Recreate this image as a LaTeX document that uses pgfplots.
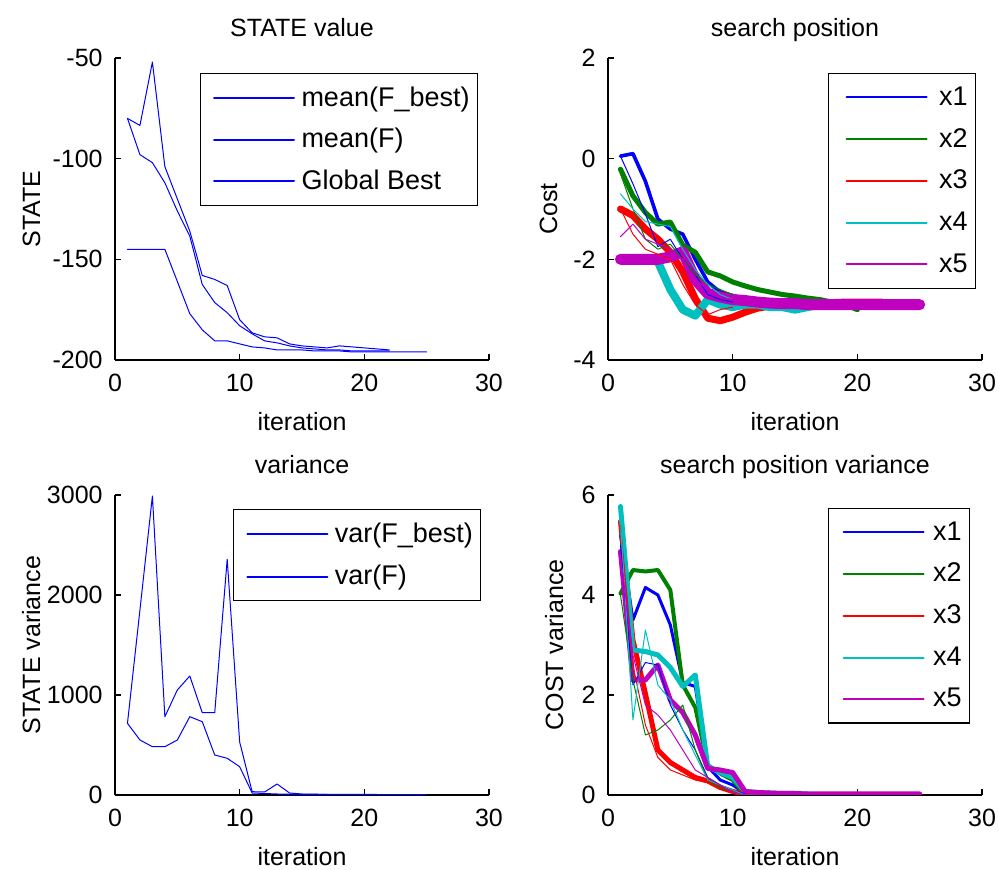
\documentclass[border=0pt]{standalone}
\usepackage{fontspec}
\setmainfont{Liberation Sans}
\usepackage{pgfplots}
\pgfplotsset{compat=1.18}

\definecolor{mblue}{rgb}{0,0,1}
\definecolor{mgreen}{rgb}{0,0.5,0}
\definecolor{mred}{rgb}{1,0,0}
\definecolor{mcyan}{rgb}{0,0.75,0.75}
\definecolor{mmag}{rgb}{0.75,0,0.75}

\newcommand{\fs}{\fontsize{12.5}{15}\selectfont}

\pgfplotsset{
  legend image code/.code={\path (0pt,0pt) (46pt,0pt);
    \draw[#1,line width=1pt](4.5pt,0pt)--(44.5pt,0pt);},
  mat/.style={
    scale only axis, width=187pt, height=151pt,
    axis x line*=bottom, axis y line*=left,
    axis line style={line width=0.6pt, black},
    tick style={line width=0.6pt, black},
    major tick length=3pt,
    xmin=0, xmax=30, xtick={0,10,20,30}, xticklabels={0,10,20,30},
    font=\fs, tick label style={font=\fs},
    xticklabel style={anchor=base, yshift=-16pt},
    yticklabel style={anchor=east, inner sep=0pt, xshift=-6pt},
    title style={at={(0.5,1)}, anchor=base, yshift=4.5pt},
    xlabel={iteration},
    xlabel style={at={(0.5,0)}, anchor=base, yshift=-35.5pt},
    legend cell align=left,
    legend style={draw=black, line width=0.6pt,
      font=\fontsize{13.5}{16}\selectfont, anchor=north west,
      inner xsep=2pt, inner ysep=4.5pt, row sep=6pt},
    every axis plot/.append style={line join=round, line cap=round},
  },
  thinl/.style={line width=0.5pt, forget plot},
}

\begin{document}
\begin{tikzpicture}
\useasboundingbox (0,0) rectangle (499.5pt,435pt);

% ---- STATE value
\begin{axis}[mat, at={(57.5pt,255pt)}, anchor=south west,
  ymin=-200, ymax=-50, ytick={-200,-150,-100,-50}, yticklabels={-200,-150,-100,-50},
  title={STATE value}, ylabel={STATE},
  ylabel style={at={(axis description cs:-0.2005,0.5)}, anchor=base},
  legend style={at={(0.227,0.95)}, row sep=5.5pt}]
\addplot[mblue, line width=0.5pt] coordinates {
  (1,-80) (2,-98) (3,-102) (4,-112) (5,-126) (6,-138.5) (7,-162.5) (8,-171.5)
  (9,-176.5) (10,-183) (11,-187) (12,-190.5) (13,-191.5) (14,-193) (15,-194)
  (16,-194.5) (17,-195) (18,-195) (19,-195.5) (20,-195.5) (21,-195.5) (22,-195.5)};
\addlegendentry{mean(F\_best)}
\addplot[mblue, line width=0.5pt] coordinates {
  (1,-80) (2,-83.5) (3,-52) (4,-104) (5,-120) (6,-136) (7,-158) (8,-160)
  (9,-163) (10,-180) (11,-186.5) (12,-188.5) (13,-189) (14,-192) (15,-193)
  (16,-193.5) (17,-194) (18,-193) (19,-193.5) (20,-194) (21,-194.5) (22,-195)};
\addlegendentry{mean(F)}
\addplot[mblue, line width=0.5pt] coordinates {
  (1,-145) (2,-145) (3,-145) (4,-145) (5,-161) (6,-177) (7,-185) (8,-190.5)
  (9,-190.5) (10,-192) (11,-193.5) (12,-194) (13,-195) (14,-195) (15,-195)
  (16,-195.5) (17,-195.5) (18,-195.5) (19,-196) (20,-196) (21,-196) (22,-196)
  (23,-196) (24,-196) (25,-196)};
\addlegendentry{Global Best}
\end{axis}

% ---- search position
\begin{axis}[mat, at={(304pt,255pt)}, anchor=south west,
  ymin=-4, ymax=2, ytick={-4,-2,0,2}, yticklabels={-4,-2,0,2},
  title={search position}, ylabel={Cost},
  ylabel style={at={(axis description cs:-0.136,0.5)}, anchor=base},
  legend style={at={(0.587,0.95)}}]
\addplot[mblue, line width=1.8pt] coordinates {
  (1,0.05) (2,0.1) (3,-0.45) (4,-1.2) (5,-1.4) (6,-1.5) (7,-2.0) (8,-2.45)
  (9,-2.65) (10,-2.72) (11,-2.78) (12,-2.8) (13,-2.82) (14,-2.85) (15,-2.85)
  (16,-2.88) (17,-2.9) (18,-2.9) (19,-2.9) (20,-2.9) (21,-2.9) (22,-2.9)};
\addlegendentry{x1}
\addplot[mgreen, line width=2.5pt] coordinates {
  (1,-0.21) (2,-0.74) (3,-1.07) (4,-1.3) (5,-1.26) (6,-1.72) (7,-1.86) (8,-2.25)
  (9,-2.33) (10,-2.45) (11,-2.53) (12,-2.6) (13,-2.65) (14,-2.7) (15,-2.73)
  (16,-2.77) (17,-2.8) (18,-2.85) (19,-2.9) (20,-3.0)};
\addlegendentry{x2}
\addplot[mred, line width=3.5pt] coordinates {
  (1,-1.0) (2,-1.13) (3,-1.4) (4,-1.6) (5,-1.86) (6,-2.25) (7,-2.78) (8,-3.17)
  (9,-3.22) (10,-3.15) (11,-3.05) (12,-2.97) (13,-2.93) (14,-2.9) (15,-2.9)
  (16,-2.88) (17,-2.88) (18,-2.86) (19,-2.85) (20,-2.85) (21,-2.85) (22,-2.85)};
\addlegendentry{x3}
\addplot[mcyan, line width=4pt] coordinates {
  (1,-2.0) (2,-2.0) (3,-2.0) (4,-2.05) (5,-2.6) (6,-3.0) (7,-3.12) (8,-2.8)
  (9,-2.9) (10,-2.95) (11,-2.9) (12,-2.9) (13,-2.95) (14,-2.95) (15,-3.0)
  (16,-2.95) (17,-2.9) (18,-2.9) (19,-2.92) (20,-2.9) (21,-2.9) (22,-2.9)};
\addlegendentry{x4}
\addplot[mmag, line width=5.5pt] coordinates {
  (1,-2) (2,-2) (3,-2) (4,-2) (5,-1.95) (6,-1.85) (7,-2.4) (8,-2.68) (9,-2.75)
  (10,-2.8) (11,-2.82) (12,-2.85) (13,-2.87) (14,-2.88) (15,-2.88) (16,-2.9)
  (17,-2.9) (18,-2.9) (19,-2.9) (20,-2.9) (21,-2.9) (22,-2.9) (23,-2.9)
  (24,-2.9) (25,-2.9)};
\addlegendentry{x5}
\addplot[mblue, thinl] coordinates {
  (1,0.05) (2,-0.5) (3,-1.1) (4,-1.75) (5,-1.6) (6,-2.0) (7,-2.3) (8,-2.7) (9,-2.8) (10,-2.85)};
\addplot[mgreen, thinl] coordinates {
  (1,-0.3) (2,-1.0) (3,-1.6) (4,-1.8) (5,-1.7) (6,-2.0) (7,-2.3) (8,-2.5) (9,-2.6) (10,-2.7)};
\addplot[mred, thinl] coordinates {
  (1,-1.0) (2,-1.5) (3,-1.8) (4,-1.9) (5,-2.0) (6,-2.5) (7,-2.9) (8,-3.1) (9,-3.0) (10,-2.95)};
\addplot[mcyan, thinl] coordinates {
  (1,-0.7) (2,-1.0) (3,-1.25) (4,-1.3) (5,-1.35) (6,-1.8) (7,-2.2) (8,-2.5) (9,-2.7) (10,-2.8)};
\addplot[mmag, thinl] coordinates {
  (1,-1.55) (2,-1.3) (3,-1.6) (4,-1.7) (5,-1.8) (6,-2.0) (7,-2.4) (8,-2.6) (9,-2.75) (10,-2.8)};
\end{axis}

% ---- variance
\begin{axis}[mat, at={(57.5pt,37.5pt)}, anchor=south west, height=150pt,
  ymin=0, ymax=3000, ytick={0,1000,2000,3000}, yticklabels={0,1000,2000,3000},
  title={variance}, ylabel={STATE variance},
  ylabel style={at={(axis description cs:-0.2005,0.5)}, anchor=base},
  legend style={at={(0.316,0.953)}}]
\addplot[mblue, line width=0.5pt] coordinates {
  (1,717) (2,550) (3,483) (4,483) (5,550) (6,783) (7,733) (8,400) (9,367)
  (10,283) (11,20) (12,15) (13,10) (14,8) (15,6) (16,5) (17,5) (18,4) (19,4)
  (20,3) (21,3) (22,3) (23,3) (24,3) (25,3)};
\addlegendentry{var(F\_best)}
\addplot[mblue, line width=0.5pt] coordinates {
  (1,717) (2,1850) (3,2990) (4,783) (5,1050) (6,1190) (7,823) (8,823) (9,2357)
  (10,530) (11,33) (12,30) (13,110) (14,20) (15,10) (16,8) (17,6) (18,5)
  (19,5) (20,5) (21,5)};
\addlegendentry{var(F)}
\end{axis}

% ---- search position variance
\begin{axis}[mat, at={(304pt,37.5pt)}, anchor=south west, height=150pt,
  ymin=0, ymax=6, ytick={0,2,4,6}, yticklabels={0,2,4,6},
  title={search position variance}, ylabel={COST variance},
  ylabel style={at={(axis description cs:-0.12,0.5)}, anchor=base},
  legend style={at={(0.587,0.957)}}]
\addplot[mblue, line width=1.5pt] coordinates {
  (1,5.2) (2,3.5) (3,4.15) (4,4.0) (5,3.4) (6,2.25) (7,2.17) (8,0.57) (9,0.3)
  (10,0.2) (11,0.03) (12,0.01) (13,0.01) (14,0)};
\addlegendentry{x1}
\addplot[mgreen, line width=2pt] coordinates {
  (1,4.03) (2,4.5) (3,4.47) (4,4.5) (5,4.1) (6,2.2) (7,1.75) (8,0.6) (9,0.43)
  (10,0.3) (11,0.01) (12,0)};
\addlegendentry{x2}
\addplot[mred, line width=2.5pt] coordinates {
  (1,5.47) (2,3.1) (3,2.03) (4,0.9) (5,0.65) (6,0.5) (7,0.35) (8,0.28) (9,0.15)
  (10,0.07) (11,0.02) (12,0.01)};
\addlegendentry{x3}
\addplot[mcyan, line width=2.5pt] coordinates {
  (1,5.77) (2,2.9) (3,2.87) (4,2.8) (5,2.55) (6,2.17) (7,2.4) (8,0.57) (9,0.45)
  (10,0.35) (11,0.07) (12,0.05) (13,0.04) (14,0.03) (15,0.03) (16,0.02)};
\addlegendentry{x4}
\addplot[mmag, line width=2.5pt] coordinates {
  (1,4.87) (2,2.3) (3,2.3) (4,2.6) (5,1.9) (6,1.65) (7,1.2) (8,0.53) (9,0.5)
  (10,0.45) (11,0.07) (12,0.05) (13,0.04) (14,0.03) (15,0.03) (16,0.02)
  (17,0.02) (18,0.02) (19,0.02) (20,0.02) (21,0.02) (22,0.02) (23,0.02)
  (24,0.02) (25,0.02)};
\addlegendentry{x5}
\addplot[mblue, thinl] coordinates {
  (1,5.0) (2,2.2) (3,2.65) (4,2.6) (5,1.8) (6,1.3) (7,0.9) (8,0.35) (9,0.2) (10,0.1) (11,0.02)};
\addplot[mgreen, thinl] coordinates {
  (1,4.0) (2,2.3) (3,1.2) (4,1.3) (5,1.5) (6,1.8) (7,0.9) (8,0.3) (9,0.15) (10,0.05) (11,0)};
\addplot[mred, thinl] coordinates {
  (1,5.4) (2,2.6) (3,1.4) (4,0.75) (5,0.5) (6,0.4) (7,0.3) (8,0.25) (9,0.12) (10,0.05) (11,0)};
\addplot[mcyan, thinl] coordinates {
  (1,5.5) (2,1.5) (3,3.3) (4,2.2) (5,1.9) (6,1.3) (7,0.8) (8,0.3) (9,0.2) (10,0.1) (11,0)};
\addplot[mmag, thinl] coordinates {
  (1,4.8) (2,2.8) (3,1.8) (4,1.6) (5,1.3) (6,0.9) (7,0.5) (8,0.35) (9,0.2) (10,0.05) (11,0)};
\end{axis}
\end{tikzpicture}
\end{document}
